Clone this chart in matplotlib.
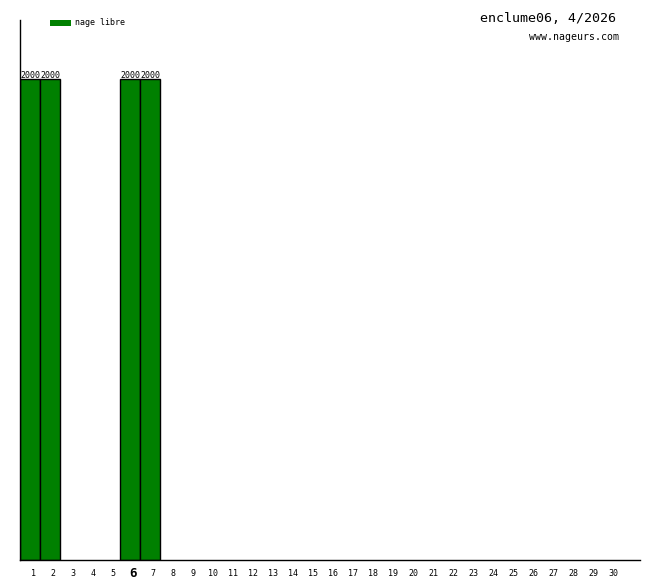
import matplotlib
matplotlib.use("Agg")
import matplotlib.pyplot as plt
from matplotlib.patches import Rectangle

days = list(range(1, 31))
bar_days = [1, 2, 6, 7]
bar_values = [2000, 2000, 2000, 2000]
title = "enclume06, 4/2026"
site = "www.nageurs.com"
legend_label = "nage libre"
highlight_day = 6

W, H = 660, 580
fig = plt.figure(figsize=(W / 100, H / 100), dpi=100)
ax = fig.add_axes([20 / W, 20 / H, 620 / W, 540 / H])
ax.bar(bar_days, bar_values, width=1.0, color="#008000", edgecolor="black", linewidth=1)
for d, v in zip(bar_days, bar_values):
    ax.annotate(str(v), (d, v), xytext=(0, -0.5), textcoords="offset points",
                ha="center", va="bottom", fontsize=6, family="DejaVu Sans Mono")
ax.set_xlim(0.5, 31.5)
ax.set_ylim(0, 2000 * 540 / 481)
ax.set_yticks([])
ax.set_xticks([d + 0.15 for d in days])
ax.set_xticklabels([str(d) for d in days], family="DejaVu Sans Mono")
for lbl, d in zip(ax.get_xticklabels(), days):
    lbl.set_verticalalignment("center")
    if d == highlight_day:
        lbl.set_fontsize(9)
        lbl.set_fontweight("bold")
    else:
        lbl.set_fontsize(6)
ax.tick_params(axis="x", length=0, pad=10)
ax.spines["top"].set_visible(False)
ax.spines["right"].set_visible(False)
ax.spines["left"].set_linewidth(1)
ax.spines["bottom"].set_linewidth(1)

fig.patches.append(Rectangle((50 / W, 1 - 26 / H), 21 / W, 6 / H, transform=fig.transFigure,
                             facecolor="#008000", edgecolor="none"))
fig.text(75 / W, 1 - 22.5 / H, legend_label, fontsize=6, family="DejaVu Sans Mono", va="center")
fig.text(616 / W, 1 - 18 / H, title, fontsize=9.6, family="DejaVu Sans Mono", ha="right", va="center")
fig.text(619 / W, 1 - 37 / H, site, fontsize=7.1, family="DejaVu Sans Mono", ha="right", va="center")

fig.savefig("out.png", dpi=100)
